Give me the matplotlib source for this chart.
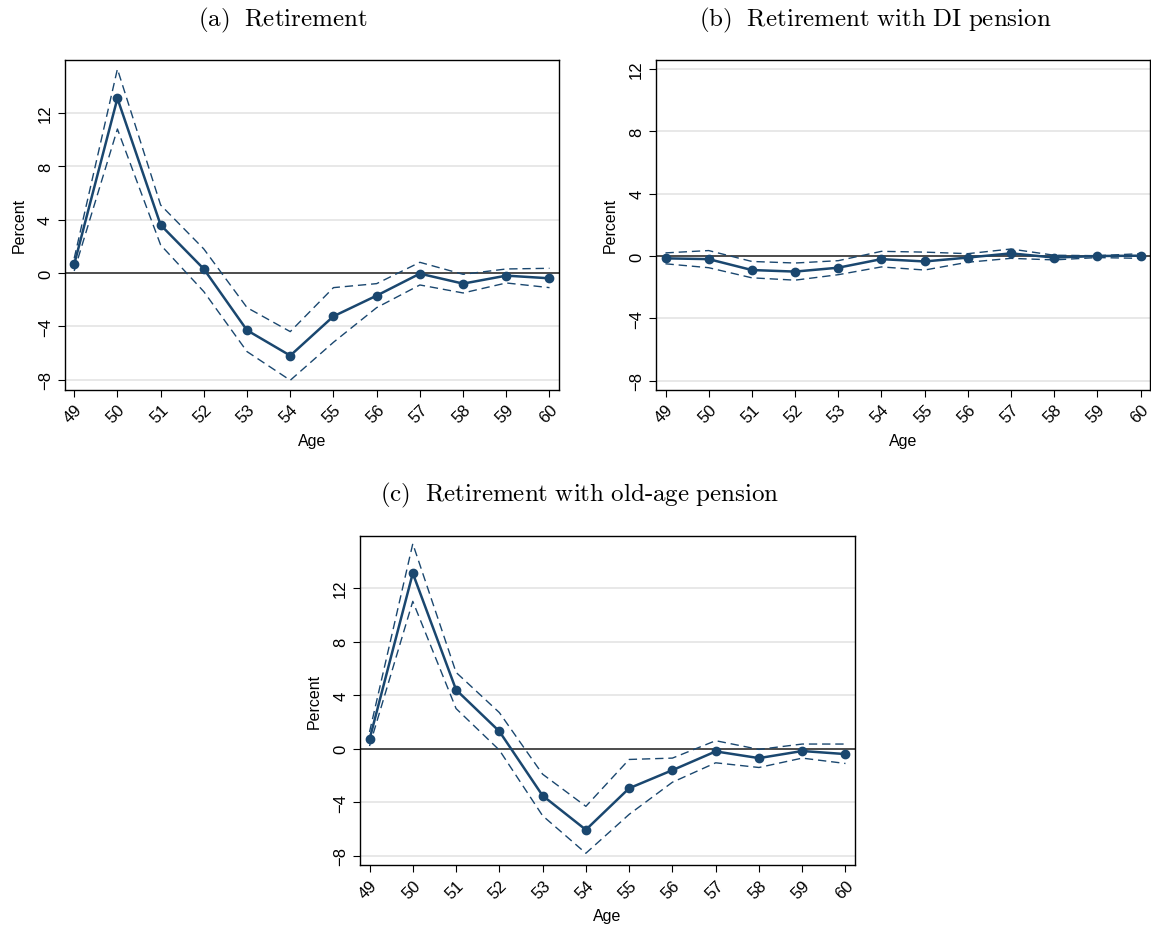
import matplotlib
matplotlib.use("Agg")
import matplotlib.pyplot as plt

plt.rcParams['mathtext.fontset'] = 'cm'
plt.rcParams['font.family'] = ['Liberation Sans', 'DejaVu Sans']

ages = [49, 50, 51, 52, 53, 54, 55, 56, 57, 58, 59, 60]

# (a) Retirement
ret_est = [0.65, 13.1, 3.6, 0.3, -4.3, -6.2, -3.25, -1.7, -0.05, -0.8, -0.2, -0.4]
ret_hi = [1.1, 15.3, 5.1, 1.8, -2.6, -4.4, -1.1, -0.8, 0.8, -0.1, 0.3, 0.35]
ret_lo = [0.15, 10.8, 2.1, -1.4, -5.9, -8.05, -5.2, -2.6, -0.9, -1.5, -0.75, -1.1]

# (b) Retirement with DI pension
di_est = [-0.15, -0.2, -0.9, -1.0, -0.75, -0.2, -0.35, -0.1, 0.17, -0.1, 0.0, 0.02]
di_hi = [0.2, 0.35, -0.35, -0.45, -0.3, 0.3, 0.25, 0.15, 0.45, 0.05, 0.02, 0.15]
di_lo = [-0.5, -0.75, -1.4, -1.55, -1.2, -0.7, -0.9, -0.4, -0.15, -0.25, -0.1, -0.15]

# (c) Retirement with old-age pension
oa_est = [0.7, 13.1, 4.4, 1.3, -3.5, -6.05, -2.95, -1.6, -0.2, -0.7, -0.17, -0.4]
oa_hi = [1.25, 15.3, 5.7, 2.7, -1.9, -4.3, -0.8, -0.7, 0.6, -0.05, 0.35, 0.35]
oa_lo = [0.2, 11.0, 3.0, -0.1, -5.0, -7.8, -4.9, -2.5, -1.05, -1.4, -0.7, -1.1]

titles = [r'$\mathrm{(a)\ \ Retirement}$',
          r'$\mathrm{(b)\ \ Retirement\ with\ DI\ pension}$',
          r'$\mathrm{(c)\ \ Retirement\ with\ old\text{-}age\ pension}$']
yticks = [-8, -4, 0, 4, 8, 12]
ylims = [(-8.78, 16.0), (-8.6, 12.6), (-8.7, 15.9)]

W, H = 1151, 929
fig = plt.figure(figsize=(W / 100, H / 100), dpi=100)

def rect(l, r, t, b):
    return [l / W, 1 - b / H, (r - l) / W, (b - t) / H]

boxes = [rect(64.7, 559, 60.7, 391), rect(656, 1150, 60.7, 391), rect(360, 855, 536.7, 866.3)]
data = [(ret_est, ret_hi, ret_lo), (di_est, di_hi, di_lo), (oa_est, oa_hi, oa_lo)]
title_pos = [(283, 20), (875, 20), (580, 495)]
col = '#1a476f'

for i, (box, (est, hi, lo)) in enumerate(zip(boxes, data)):
    ax = fig.add_axes(box)
    ax.set_axisbelow(True)
    ax.set_xlim(48.78, 60.22)
    ax.set_ylim(*ylims[i])
    ax.set_yticks(yticks)
    ax.set_xticks(ages)
    ax.grid(axis='y', color='#e4e4e4', linewidth=1.2)
    ax.axhline(0, color='#222222', linewidth=1.1, zorder=1.5)
    ax.plot(ages, hi, color=col, linestyle=(0, (6, 3.5)), linewidth=1.0, zorder=2)
    ax.plot(ages, lo, color=col, linestyle=(0, (6, 3.5)), linewidth=1.0, zorder=2)
    ax.plot(ages, est, color=col, linewidth=1.8, marker='o', markersize=6, zorder=3)
    for s in ax.spines.values():
        s.set_linewidth(1.0)
        s.set_color('black')
    ax.tick_params(axis='both', direction='out', length=5, width=0.8, labelsize=12, colors='black')
    for lab in ax.get_yticklabels():
        lab.set_rotation(90)
        lab.set_va('center')
    for lab in ax.get_xticklabels():
        lab.set_rotation(45)
        lab.set_ha('right')
        lab.set_rotation_mode('anchor')
    ax.set_ylabel('Percent', fontsize=11.5, labelpad=8)
    ax.set_xlabel('Age', fontsize=11.5, labelpad=5)
    tx, ty = title_pos[i]
    fig.text(tx / W, 1 - ty / H, titles[i], ha='center', va='center', fontsize=18)

fig.savefig('out.png', dpi=100)
